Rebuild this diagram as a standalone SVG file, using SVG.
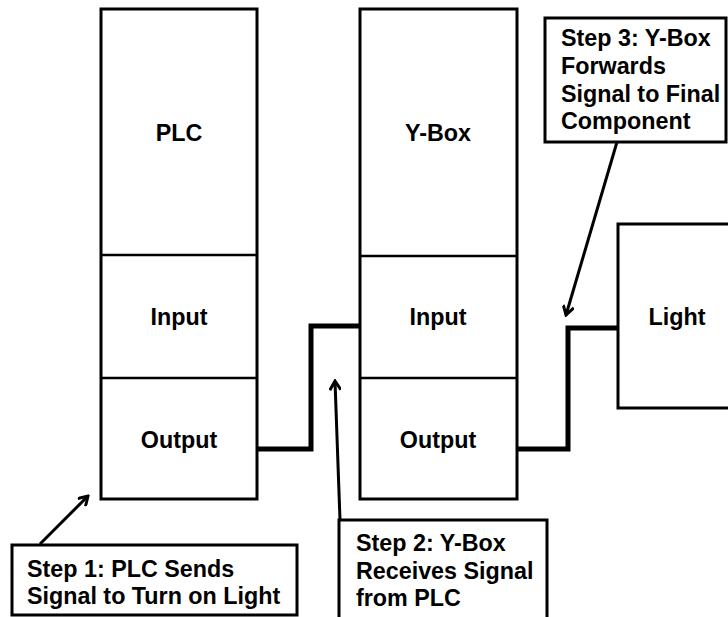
<svg xmlns="http://www.w3.org/2000/svg" width="728" height="617" viewBox="0 0 728 617">
<style>
.box{fill:#fff;stroke:#000;stroke-width:3}
.div{stroke:#000;stroke-width:2.5}
.t{font-family:"Liberation Sans",Arial,sans-serif;font-weight:bold;font-size:23.3px;fill:#000}
.c{text-anchor:middle}
.wire{fill:none;stroke:#000;stroke-width:5}
.arr{fill:none;stroke:#000;stroke-width:3;marker-end:url(#ah)}
</style>
<defs>
<marker id="ah" markerWidth="12" markerHeight="12" refX="10" refY="6" orient="auto" markerUnits="userSpaceOnUse">
<polyline points="1,0.5 10,6 1,11.5" fill="none" stroke="#000" stroke-width="3"/>
</marker>
</defs>
<rect x="0" y="0" width="728" height="617" fill="#fff"/>
<g id="plc">
<rect class="box" x="101" y="9" width="156" height="490"/>
<line class="div" x1="101" y1="255" x2="257" y2="255"/>
<line class="div" x1="101" y1="378" x2="257" y2="378"/>
<text class="t c" x="179" y="141">PLC</text>
<text class="t c" x="179" y="325">Input</text>
<text class="t c" x="179" y="448">Output</text>
</g>
<g id="ybox">
<rect class="box" x="360" y="9" width="157" height="490"/>
<line class="div" x1="360" y1="256" x2="517" y2="256"/>
<line class="div" x1="360" y1="378" x2="517" y2="378"/>
<text class="t c" x="438" y="141">Y-Box</text>
<text class="t c" x="438" y="325">Input</text>
<text class="t c" x="438" y="448">Output</text>
</g>
<g id="light">
<rect class="box" x="618" y="224" width="130" height="184"/>
<text class="t c" x="677" y="325">Light</text>
</g>
<g id="step1">
<rect class="box" x="12" y="545" width="285" height="70"/>
<text class="t" x="27" y="577">Step 1: PLC Sends</text>
<text class="t" x="27" y="604">Signal to Turn on Light</text>
</g>
<g id="step2">
<rect class="box" x="339" y="520" width="208" height="110"/>
<text class="t" x="356" y="551">Step 2: Y-Box</text>
<text class="t" x="356" y="579">Receives Signal</text>
<text class="t" x="356" y="606">from PLC</text>
</g>
<g id="step3">
<rect class="box" x="545" y="18" width="181" height="124"/>
<text class="t" x="561" y="46">Step 3: Y-Box</text>
<text class="t" x="561" y="74">Forwards</text>
<text class="t" x="561" y="102">Signal to Final</text>
<text class="t" x="561" y="129">Component</text>
</g>
<g id="connectors">
<polyline class="wire" points="257,449 311,449 311,326 360,326"/>
<polyline class="wire" points="517,449 568,449 568,328 618,328"/>
<line class="arr" x1="40" y1="544" x2="88" y2="496"/>
<line class="arr" x1="340" y1="520" x2="335" y2="381"/>
<line class="arr" x1="617" y1="142" x2="566" y2="315"/>
</g>
</svg>
